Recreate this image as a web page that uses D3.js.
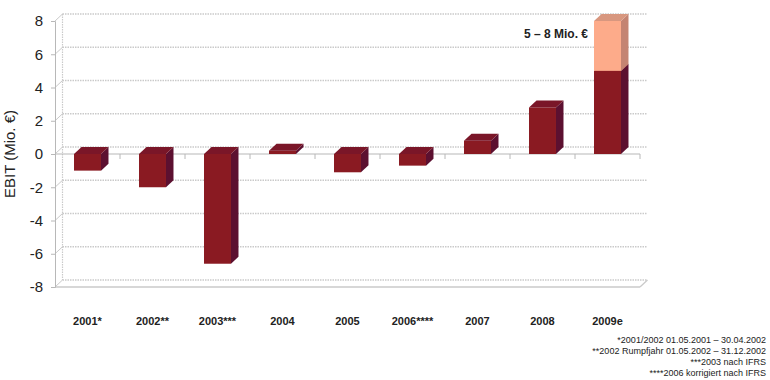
<!DOCTYPE html>
<html>
<head>
<meta charset="utf-8">
<script src="https://cdn.jsdelivr.net/npm/d3@7/dist/d3.min.js"></script>
<style>
  html, body { margin: 0; padding: 0; background: #fff; }
  svg { display: block; font-family: "Liberation Sans", Arial, sans-serif; }
</style>
</head>
<body>
<svg id="chart" width="770" height="380"></svg>
<script>
// ---- data ----
const categories = ["2001*", "2002**", "2003***", "2004", "2005", "2006****", "2007", "2008", "2009e"];
const ebit = [-1.0, -2.0, -6.6, 0.2, -1.1, -0.7, 0.8, 2.8, 5.0];
const upside = [0, 0, 0, 0, 0, 0, 0, 0, 3.0];
const yTicks = [-8, -6, -4, -2, 0, 2, 4, 6, 8];
const yTitle = "EBIT (Mio. €)";
const annotation = "5 – 8 Mio. €";
const footnotes = [
  "*2001/2002 01.05.2001 – 30.04.2002",
  "**2002 Rumpfjahr 01.05.2002 – 31.12.2002",
  "***2003 nach IFRS",
  "****2006 korrigiert nach IFRS"
];

// ---- layout ----
const svg = d3.select("#chart");
const mLeft = 55, mRight = 640, mTop = 21, mBottom = 287;
const dx = 7.5, dy = 7;

const x = d3.scaleBand().domain(categories).range([mLeft, mRight]).paddingInner(0).paddingOuter(0);
const y = d3.scaleLinear().domain([-8, 8]).range([mBottom, mTop]);
const barW = x.bandwidth() * 0.415;

const gridColor = "#cacaca";
const axisColor = "#b8b8b8";

// back wall gridlines
const grid = svg.append("g");
yTicks.forEach(t => {
  const yy = y(t);
  grid.append("line")
    .attr("x1", mLeft + dx).attr("x2", mRight + dx)
    .attr("y1", yy - dy).attr("y2", yy - dy)
    .attr("stroke", gridColor).attr("stroke-width", 1.3)
    .attr("stroke-dasharray", "1.5,1");
  grid.append("line")
    .attr("x1", mLeft).attr("y1", yy)
    .attr("x2", mLeft + dx).attr("y2", yy - dy)
    .attr("stroke", gridColor).attr("stroke-width", 1);
});
// back left wall vertical
grid.append("line")
  .attr("x1", mLeft + dx).attr("x2", mLeft + dx)
  .attr("y1", y(8) - dy).attr("y2", y(-8) - dy)
  .attr("stroke", gridColor).attr("stroke-width", 1.2).attr("stroke-dasharray", "1.5,1");
// floor front line + right diagonal
grid.append("line")
  .attr("x1", mLeft).attr("x2", mRight)
  .attr("y1", y(-8)).attr("y2", y(-8))
  .attr("stroke", gridColor).attr("stroke-width", 1.3);
grid.append("line")
  .attr("x1", mRight).attr("y1", y(-8))
  .attr("x2", mRight + dx).attr("y2", y(-8) - dy)
  .attr("stroke", gridColor).attr("stroke-width", 1.3);

// y axis (front)
const yAxis = d3.axisLeft(y).tickValues(yTicks).tickSize(4).tickPadding(8).tickFormat(d3.format("d"));
const gy = svg.append("g").attr("transform", `translate(${mLeft},0)`).call(yAxis);
gy.select(".domain").attr("stroke", axisColor);
gy.selectAll(".tick line").attr("stroke", axisColor);
gy.selectAll(".tick text")
  .attr("font-size", 15).attr("fill", "#222")
  .attr("font-family", "'Liberation Sans', Arial, sans-serif")
  .text(d => d < 0 ? "-" + Math.abs(d) : d);

// zero axis (front) with category ticks
const gx = svg.append("g").attr("transform", `translate(0,${y(0)})`);
gx.append("line").attr("x1", mLeft).attr("x2", mRight).attr("y1", 0).attr("y2", 0)
  .attr("stroke", axisColor).attr("stroke-width", 1.2);
categories.forEach(c => {
  const bx = x(c) + x.bandwidth();
  gx.append("line").attr("x1", bx).attr("x2", bx).attr("y1", 0).attr("y2", 5)
    .attr("stroke", axisColor);
});

// x labels
svg.append("g").selectAll("text").data(categories).join("text")
  .attr("x", d => x(d) + x.bandwidth() / 2)
  .attr("y", 325)
  .attr("text-anchor", "middle")
  .attr("font-size", 11).attr("font-weight", "bold").attr("fill", "#222")
  .text(d => d);

// y title
svg.append("text")
  .attr("transform", `translate(15,${y(0)}) rotate(-90)`)
  .attr("text-anchor", "middle")
  .attr("font-size", 15).attr("fill", "#222")
  .text(yTitle);

// 3D bars
const darkFill = { front: "#8a1a22", side: "#5c1030", top: "#7a1628" };
const lightFill = { front: "#fdab8a", side: "#c48472", top: "#d8977f" };

function drawBox(g, xc, v0, v1, fill, showTop) {
  const x0 = xc - barW / 2, x1 = xc + barW / 2;
  const yT = y(Math.max(v0, v1)), yB = y(Math.min(v0, v1));
  g.append("path")
    .attr("d", `M${x1},${yT}L${x1 + dx},${yT - dy}L${x1 + dx},${yB - dy}L${x1},${yB}Z`)
    .attr("fill", fill.side);
  g.append("rect").attr("x", x0).attr("y", yT).attr("width", barW).attr("height", Math.max(0, yB - yT))
    .attr("fill", fill.front);
  if (showTop) {
    g.append("path")
      .attr("d", `M${x0},${yT}L${x0 + dx},${yT - dy}L${x1 + dx},${yT - dy}L${x1},${yT}Z`)
      .attr("fill", fill.top);
  }
}

const bars = svg.append("g");
categories.forEach((c, i) => {
  const xc = x(c) + x.bandwidth() / 2;
  const v = ebit[i];
  const g = bars.append("g");
  drawBox(g, xc, 0, v, darkFill, true);
  if (upside[i] > 0) {
    drawBox(g, xc, v, v + upside[i], lightFill, true);
  }
});

// annotation
svg.append("text")
  .attr("x", 524).attr("y", 38)
  .attr("font-size", 12).attr("font-weight", "bold").attr("fill", "#222")
  .text(annotation);

// footnotes
svg.append("g").selectAll("text").data(footnotes).join("text")
  .attr("x", 766)
  .attr("y", (d, i) => 343 + i * 11)
  .attr("text-anchor", "end")
  .attr("font-size", 9).attr("fill", "#222")
  .text(d => d);
</script>
</body>
</html>
